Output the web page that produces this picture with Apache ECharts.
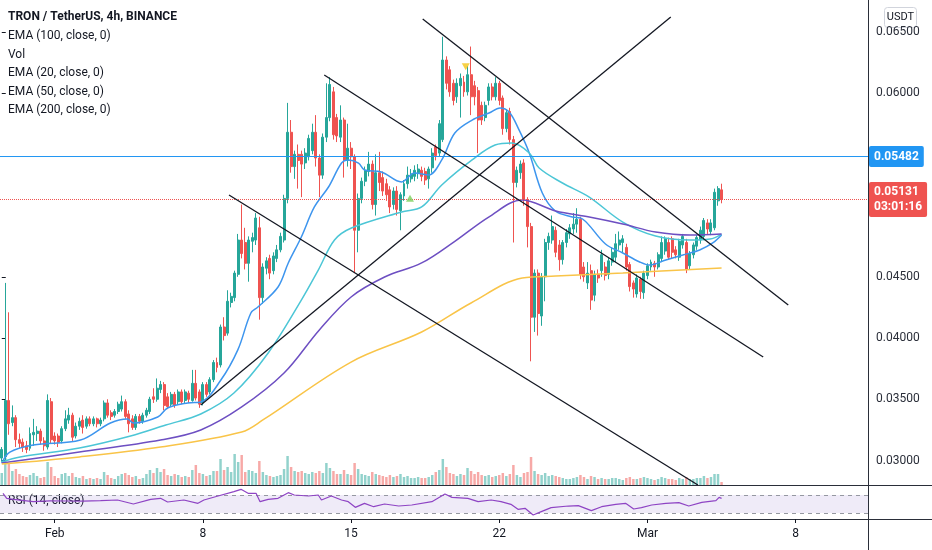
<!DOCTYPE html>
<html><head><meta charset="utf-8">
<script src="https://cdn.jsdelivr.net/npm/echarts@6/dist/echarts.min.js"></script>
<style>html,body{margin:0;padding:0;background:#fff;}#c{width:932px;height:550px;}</style>
</head><body><div id="c"></div>
<script>
// ---------- data ----------
const startTimeUTC = Date.UTC(2021, 0, 29, 12); // first 4h candle
const categoryCount = 246;
const tickIndex = [15, 57, 99, 141, 183, 225];
const tickLabels = ['Feb', '8', '15', '22', 'Mar', '8'];
const priceTicks = [0.030, 0.035, 0.040, 0.045, 0.060, 0.065];
const priceMin = 0.028, priceMax = 0.0676;
const titleText = 'TRON / TetherUS, 4h, BINANCE';
const legendLines = ['EMA (100, close, 0)', 'Vol', 'EMA (20, close, 0)', 'EMA (50, close, 0)', 'EMA (200, close, 0)'];
const alertLevel = 0.05482;
const countdown = '03:01:16';
const quoteCurrency = 'USDT';
const rsiTitle = 'RSI (14, close)';
const rsiBands = [30, 70];

// [open, close, low, high]
const candles = [
[0.0302,0.0309,0.0299,0.0311],[0.0303,0.0349,0.0300,0.0445],[0.0349,0.0330,0.0321,0.0421],[0.0331,0.0335,0.0328,0.0345],
[0.0335,0.0317,0.0311,0.0337],[0.0317,0.0314,0.0310,0.0322],[0.0315,0.0311,0.0307,0.0318],[0.0312,0.0309,0.0306,0.0316],
[0.0310,0.0322,0.0308,0.0327],[0.0321,0.0323,0.0312,0.0334],[0.0322,0.0324,0.0316,0.0328],[0.0324,0.0316,0.0313,0.0326],
[0.0316,0.0312,0.0308,0.0319],[0.0311,0.0349,0.0309,0.0354],[0.0348,0.0317,0.0314,0.0351],[0.0320,0.0316,0.0313,0.0323],
[0.0320,0.0315,0.0311,0.0322],[0.0316,0.0326,0.0314,0.0328],[0.0326,0.0334,0.0324,0.0341],[0.0333,0.0337,0.0330,0.0343],
[0.0337,0.0319,0.0316,0.0339],[0.0320,0.0328,0.0318,0.0331],[0.0328,0.0332,0.0325,0.0335],[0.0333,0.0327,0.0322,0.0337],
[0.0328,0.0334,0.0326,0.0336],[0.0334,0.0330,0.0328,0.0336],[0.0330,0.0334,0.0328,0.0336],[0.0334,0.0330,0.0327,0.0335],
[0.0330,0.0333,0.0328,0.0335],[0.0334,0.0347,0.0332,0.0349],[0.0347,0.0337,0.0335,0.0350],[0.0339,0.0336,0.0333,0.0341],
[0.0337,0.0340,0.0335,0.0342],[0.0340,0.0346,0.0338,0.0348],[0.0342,0.0348,0.0340,0.0353],[0.0348,0.0336,0.0334,0.0350],
[0.0338,0.0330,0.0323,0.0341],[0.0334,0.0327,0.0325,0.0337],[0.0327,0.0336,0.0325,0.0338],[0.0336,0.0332,0.0330,0.0338],
[0.0332,0.0337,0.0330,0.0339],[0.0337,0.0341,0.0335,0.0343],[0.0340,0.0350,0.0338,0.0352],[0.0352,0.0350,0.0347,0.0359],
[0.0350,0.0359,0.0348,0.0367],[0.0358,0.0362,0.0355,0.0365],[0.0362,0.0345,0.0341,0.0364],[0.0352,0.0344,0.0342,0.0355],
[0.0346,0.0354,0.0344,0.0356],[0.0354,0.0345,0.0343,0.0356],[0.0348,0.0356,0.0346,0.0358],[0.0356,0.0348,0.0346,0.0358],
[0.0349,0.0356,0.0347,0.0358],[0.0355,0.0350,0.0347,0.0357],[0.0349,0.0363,0.0348,0.0374],[0.0363,0.0351,0.0349,0.0374],
[0.0356,0.0346,0.0343,0.0358],[0.0347,0.0362,0.0345,0.0364],[0.0362,0.0354,0.0352,0.0364],[0.0356,0.0366,0.0354,0.0368],
[0.0366,0.0380,0.0364,0.0382],[0.0380,0.0376,0.0372,0.0384],[0.0378,0.0409,0.0376,0.0411],[0.0409,0.0402,0.0398,0.0417],
[0.0404,0.0430,0.0402,0.0439],[0.0429,0.0434,0.0425,0.0437],[0.0433,0.0453,0.0430,0.0455],[0.0452,0.0480,0.0450,0.0485],
[0.0480,0.0469,0.0465,0.0509],[0.0478,0.0461,0.0456,0.0490],[0.0461,0.0480,0.0446,0.0483],[0.0479,0.0482,0.0470,0.0486],
[0.0480,0.0498,0.0476,0.0502],[0.0490,0.0433,0.0415,0.0499],[0.0433,0.0458,0.0428,0.0461],[0.0457,0.0463,0.0452,0.0466],
[0.0465,0.0453,0.0448,0.0468],[0.0455,0.0467,0.0452,0.0470],[0.0465,0.0472,0.0462,0.0476],[0.0472,0.0483,0.0470,0.0486],
[0.0480,0.0514,0.0478,0.0517],[0.0514,0.0568,0.0510,0.0592],[0.0568,0.0540,0.0535,0.0578],[0.0540,0.0550,0.0530,0.0553],
[0.0550,0.0545,0.0522,0.0558],[0.0550,0.0542,0.0515,0.0553],[0.0543,0.0551,0.0538,0.0555],[0.0548,0.0563,0.0545,0.0566],
[0.0553,0.0568,0.0550,0.0575],[0.0568,0.0547,0.0540,0.0582],[0.0547,0.0533,0.0515,0.0550],[0.0533,0.0564,0.0530,0.0567],
[0.0564,0.0580,0.0560,0.0608],[0.0580,0.0607,0.0577,0.0613],[0.0601,0.0566,0.0562,0.0605],[0.0580,0.0565,0.0560,0.0583],
[0.0564,0.0578,0.0560,0.0590],[0.0578,0.0545,0.0531,0.0580],[0.0545,0.0555,0.0540,0.0575],[0.0555,0.0548,0.0538,0.0560],
[0.0548,0.0488,0.0453,0.0550],[0.0488,0.0514,0.0470,0.0518],[0.0514,0.0528,0.0510,0.0531],[0.0528,0.0537,0.0524,0.0540],
[0.0536,0.0542,0.0532,0.0552],[0.0542,0.0509,0.0505,0.0545],[0.0509,0.0535,0.0500,0.0550],[0.0535,0.0527,0.0520,0.0552],
[0.0531,0.0520,0.0516,0.0536],[0.0526,0.0517,0.0512,0.0530],[0.0521,0.0507,0.0502,0.0524],[0.0509,0.0520,0.0505,0.0523],
[0.0520,0.0505,0.0500,0.0524],[0.0504,0.0517,0.0488,0.0519],[0.0516,0.0526,0.0512,0.0529],[0.0526,0.0533,0.0522,0.0540],
[0.0530,0.0534,0.0527,0.0538],[0.0532,0.0537,0.0528,0.0541],[0.0535,0.0538,0.0530,0.0542],[0.0537,0.0532,0.0528,0.0540],
[0.0536,0.0529,0.0525,0.0539],[0.0530,0.0538,0.0522,0.0540],[0.0539,0.0551,0.0535,0.0555],[0.0556,0.0549,0.0545,0.0558],
[0.0551,0.0575,0.0548,0.0578],[0.0562,0.0627,0.0560,0.0646],[0.0627,0.0608,0.0603,0.0630],[0.0619,0.0601,0.0597,0.0622],
[0.0608,0.0594,0.0590,0.0611],[0.0597,0.0608,0.0592,0.0612],[0.0606,0.0612,0.0580,0.0616],[0.0609,0.0601,0.0597,0.0614],
[0.0601,0.0615,0.0598,0.0622],[0.0615,0.0597,0.0582,0.0638],[0.0606,0.0597,0.0590,0.0610],[0.0602,0.0578,0.0551,0.0605],
[0.0590,0.0578,0.0574,0.0593],[0.0580,0.0590,0.0577,0.0593],[0.0594,0.0605,0.0590,0.0608],[0.0605,0.0597,0.0594,0.0608],
[0.0597,0.0608,0.0594,0.0613],[0.0608,0.0594,0.0590,0.0610],[0.0596,0.0571,0.0566,0.0598],[0.0571,0.0584,0.0568,0.0587],
[0.0585,0.0562,0.0558,0.0588],[0.0562,0.0527,0.0478,0.0565],[0.0527,0.0537,0.0523,0.0540],[0.0535,0.0542,0.0530,0.0545],
[0.0543,0.0513,0.0508,0.0546],[0.0513,0.0491,0.0474,0.0515],[0.0491,0.0417,0.0381,0.0494],[0.0417,0.0453,0.0405,0.0456],
[0.0453,0.0420,0.0402,0.0456],[0.0418,0.0450,0.0410,0.0453],[0.0450,0.0478,0.0430,0.0481],[0.0478,0.0483,0.0472,0.0486],
[0.0480,0.0491,0.0477,0.0500],[0.0488,0.0470,0.0466,0.0491],[0.0476,0.0464,0.0455,0.0480],[0.0464,0.0478,0.0460,0.0480],
[0.0478,0.0486,0.0474,0.0489],[0.0485,0.0490,0.0481,0.0493],[0.0489,0.0493,0.0485,0.0502],[0.0493,0.0497,0.0486,0.0506],
[0.0497,0.0452,0.0448,0.0499],[0.0458,0.0450,0.0446,0.0462],[0.0445,0.0453,0.0440,0.0462],[0.0455,0.0431,0.0423,0.0460],
[0.0435,0.0452,0.0430,0.0455],[0.0452,0.0449,0.0445,0.0456],[0.0455,0.0468,0.0450,0.0472],[0.0458,0.0451,0.0447,0.0462],
[0.0452,0.0463,0.0448,0.0466],[0.0462,0.0470,0.0459,0.0474],[0.0466,0.0477,0.0462,0.0485],[0.0476,0.0480,0.0472,0.0487],
[0.0478,0.0481,0.0470,0.0484],[0.0474,0.0458,0.0455,0.0477],[0.0460,0.0442,0.0438,0.0462],[0.0445,0.0440,0.0433,0.0447],
[0.0436,0.0449,0.0433,0.0452],[0.0448,0.0438,0.0432,0.0450],[0.0437,0.0453,0.0432,0.0455],[0.0451,0.0459,0.0448,0.0461],
[0.0458,0.0462,0.0455,0.0464],[0.0461,0.0458,0.0450,0.0463],[0.0458,0.0468,0.0456,0.0470],[0.0465,0.0478,0.0462,0.0483],
[0.0471,0.0481,0.0468,0.0483],[0.0478,0.0466,0.0464,0.0482],[0.0481,0.0470,0.0465,0.0483],[0.0472,0.0468,0.0465,0.0475],
[0.0466,0.0479,0.0463,0.0481],[0.0476,0.0483,0.0473,0.0485],[0.0478,0.0456,0.0453,0.0481],[0.0459,0.0469,0.0456,0.0471],
[0.0468,0.0476,0.0465,0.0478],[0.0475,0.0482,0.0472,0.0484],[0.0480,0.0488,0.0477,0.0491],[0.0483,0.0496,0.0480,0.0498],
[0.0494,0.0489,0.0485,0.0497],[0.0487,0.0494,0.0484,0.0497],[0.0490,0.0519,0.0488,0.0522],[0.0512,0.0522,0.0508,0.0524],
[0.0521,0.05131,0.0510,0.0526]
];

// volume (M TRX)
const volumes = [
120,270,220,140,160,110,90,80,100,120,90,70,80,230,180,90,70,110,120,90,
120,80,70,90,60,70,60,70,60,130,100,70,60,90,110,120,100,80,90,60,
70,110,150,120,170,130,160,100,90,110,100,80,90,80,150,200,120,110,90,100,
140,140,260,150,180,130,310,230,300,130,150,140,120,240,130,100,90,80,90,100,
160,290,180,140,130,140,120,110,130,120,140,120,220,170,140,110,110,150,110,100,
220,160,110,100,90,130,110,100,90,80,100,80,90,110,80,90,70,70,80,70,
70,80,100,130,150,260,180,120,110,90,110,100,170,140,110,130,100,90,100,80,
90,100,120,90,110,200,100,80,120,130,280,140,110,100,120,90,100,90,80,70,
60,60,70,80,100,80,60,90,80,60,70,60,60,70,70,60,50,70,80,60,
60,70,80,70,60,50,60,80,70,60,60,50,70,60,80,60,60,70,70,90,
70,80,110,110,30
];

// EMA readings [candle index, price]
const ema20 = [[0,0.02979],[2.3,0.03069],[8.9,0.03127],[22.3,0.03167],[30.8,0.03306],[35.6,0.03339],[37.3,0.03306],
[44.2,0.03355],[47,0.03429],[52.7,0.03470],[56.4,0.03478],[62.1,0.03657],[66.9,0.03903],[70.6,0.04204],[72.6,0.04253],
[78.3,0.04417],[81.2,0.04613],[84.9,0.04825],[88.6,0.05070],[92.6,0.05233],[96.3,0.05429],[98.2,0.05454],[101.1,0.05429],
[102.8,0.05372],[107.6,0.05356],[113.3,0.05274],[117,0.05347],[121,0.05331],[124.7,0.05454],[128.4,0.05674],[133.3,0.05780],
[138.1,0.05837],[141.2,0.05878],[143.8,0.05845],[146.6,0.05699],[149.5,0.05511],[153.2,0.05184],[156.9,0.05037],
[161.7,0.04988],[164.6,0.04972],[171.1,0.04768],[176,0.04694],[180.8,0.04621],[183.6,0.04596],[188.2,0.04637],
[193,0.04678],[197.8,0.04719],[201.5,0.04776],[204,0.04841]];
const ema50 = [[0,0.02988],[5.2,0.03029],[22,0.03102],[36.5,0.03200],[46.5,0.03290],[56.4,0.03380],[65.8,0.03551],
[75.5,0.03878],[84.9,0.04310],[89.7,0.04555],[94.3,0.04800],[99.1,0.04898],[113.3,0.05029],[119,0.05070],[124.7,0.05249],
[133.3,0.05454],[139.8,0.05576],[144.6,0.05592],[149.5,0.05511],[152.3,0.05388],[158.9,0.05266],[166.5,0.05151],
[176,0.04947],[185.3,0.04833],[195,0.04800],[200.7,0.04808],[204,0.04849]];
const ema100 = [[0,0.02979],[22,0.03069],[45,0.03167],[56.4,0.03249],[68,0.03437],[80,0.03714],[90,0.04066],[99,0.04335],
[108.5,0.04498],[119,0.04613],[128.4,0.04790],[138,0.04988],[147.5,0.05127],[157,0.05037],[166.5,0.04988],[176,0.04931],
[185.3,0.04866],[195,0.04841],[204,0.04849]];
const ema200 = [[0,0.02971],[22,0.03029],[45,0.03110],[68,0.03233],[74,0.03331],[99,0.03804],[119,0.04049],[133,0.04286],
[147.5,0.04490],[157,0.04506],[176,0.04531],[204,0.04572]];

// RSI readings [candle index, value]
const rsi = [[0.35,73.7],[1.4,62.6],[3.3,60.4],[8.9,55.2],[13.7,57],[18.6,56.7],[23.1,56.5],[28,57.4],[32.8,58.9],
[37.3,50],[42.2,60.4],[45,62.6],[47,54.4],[51.6,58.9],[55.6,51.5],[57.3,58.9],[61.3,67.8],[65.8,77.4],[67.8,82.6],
[69.8,73.7],[72.1,73.5],[73.2,55.2],[75.5,60.4],[78.3,62.6],[81.2,75.2],[82.9,70],[86.9,67.8],[89.7,70],[90.6,58.9],
[93.4,67.8],[96.3,58.9],[98.2,55.2],[100.2,42.6],[102.8,51.5],[105.4,44],[108.5,50],[112.5,45.5],[116.2,47.8],
[121.9,55.2],[125.6,72.2],[127.6,64.8],[132.1,62.6],[135,55.2],[138.7,58.9],[141.5,55.2],[144.3,49.3],[146.3,38.1],
[148.3,40.4],[150.6,25.6],[152.9,33],[155.7,41.9],[160.6,45.5],[163.4,46.3],[167.1,35.2],[170,44],[174,49.3],
[176.8,51.5],[179.1,38.9],[181.3,41.9],[184.2,47.8],[188.2,51.5],[191.9,53],[194.7,45.5],[198.4,53.7],[202.4,57.4],
[203.3,64.8],[204,62.6]];

// Drawn trend lines: [[index, price], [index, price]]
const trendLines = [
  [[56.4, 0.03453], [189.6, 0.06621]],
  [[64.4, 0.05168], [197.3, 0.02800]],
  [[91.4, 0.06148], [215.8, 0.03845]],
  [[119.3, 0.06605], [222.9, 0.04270]]
];
const markersUp = [[115.7, 0.05141]];
const markersDown = [[131.5, 0.06215]];

// ---------- chart ----------
const categories = [];
for (let i = 0; i < categoryCount; i++) {
  const d = new Date(startTimeUTC + i * 4 * 3600 * 1000);
  categories.push(d.toISOString().slice(0, 16).replace('T', ' '));
}
const lastClose = candles[candles.length - 1][1];
const UP = '#26a69a', DOWN = '#ef5350';
const FONT = "Roboto, sans-serif";
const TXT = '#131722';
const xLo = -0.5, xHi = categoryCount - 0.5;

const volData = volumes.map((v, i) => ({
  value: v,
  itemStyle: { color: candles[i][1] >= candles[i][0] ? 'rgba(38,166,154,0.5)' : 'rgba(239,83,80,0.5)' }
}));

const emaSeries = [
  { d: ema20, c: '#3d95ee' },
  { d: ema50, c: '#4cc6d6' },
  { d: ema100, c: '#6d4fc2' },
  { d: ema200, c: '#f9c448' }
].map(e => ({
  type: 'line', xAxisIndex: 1, yAxisIndex: 0, data: e.d, showSymbol: false, smooth: 0.35,
  lineStyle: { color: e.c, width: 1.5 }, silent: true, z: 4
}));

const trendSeries = trendLines.map(t => ({
  type: 'line', xAxisIndex: 1, yAxisIndex: 0, data: t, showSymbol: false,
  lineStyle: { color: '#131722', width: 1.3 }, silent: true, z: 6
}));

function levelSeries(level, color, type, text, padding) {
  return {
    type: 'line', xAxisIndex: 1, yAxisIndex: 0, data: [[xLo, level], [xHi, level]],
    showSymbol: false, silent: true, z: 5,
    lineStyle: { color: color, width: 1, type: type },
    endLabel: { show: true, distance: 1, formatter: text, backgroundColor: color, color: '#fff',
      padding: padding, fontSize: 12, lineHeight: 15, fontFamily: 'Roboto', fontWeight: 'bold', borderRadius: 2 }
  };
}

const textEls = [{
  type: 'text', left: 8, top: 11,
  style: { text: titleText, font: 'bold 12px ' + FONT, fill: TXT }
}].concat(legendLines.map((t, k) => ({
  type: 'text', left: 8, top: 30 + k * 18.6,
  style: { text: t, font: '12px ' + FONT, fill: TXT }
})));

const option = {
  animation: false,
  backgroundColor: '#ffffff',
  grid: [
    { left: 0, top: 0, width: 868, height: 485 },
    { left: 0, top: 486, width: 868, height: 33 }
  ],
  xAxis: [
    { type: 'category', gridIndex: 0, data: categories, boundaryGap: true, show: false },
    { type: 'value', gridIndex: 0, min: xLo, max: xHi, show: false },
    { type: 'category', gridIndex: 1, data: categories, boundaryGap: true, position: 'bottom',
      axisLine: { show: false },
      axisTick: { show: true, alignWithLabel: true, length: 4, lineStyle: { color: TXT },
        interval: (idx) => tickIndex.indexOf(idx) >= 0 },
      axisLabel: { show: true, margin: 9, fontSize: 12, color: TXT, fontFamily: 'Roboto',
        interval: (idx) => tickIndex.indexOf(idx) >= 0,
        formatter: (v, idx) => { const k = tickIndex.indexOf(idx); return k >= 0 ? tickLabels[k] : ''; } },
      splitLine: { show: false } },
    { type: 'value', gridIndex: 1, min: xLo, max: xHi, show: false }
  ],
  yAxis: [
    { type: 'value', gridIndex: 0, position: 'right', min: priceMin, max: priceMax,
      axisLine: { show: false },
      axisTick: { show: true, length: 4, lineStyle: { color: TXT }, customValues: priceTicks },
      axisLabel: { show: true, margin: 8, fontSize: 12, color: '#2a2e39', fontFamily: 'Roboto',
        customValues: priceTicks, formatter: v => v.toFixed(5) },
      splitLine: { show: false } },
    { type: 'value', gridIndex: 0, min: 0, max: 4850, show: false },
    { type: 'value', gridIndex: 1, min: 16.67, max: 90, show: false }
  ],
  series: [
    { type: 'bar', xAxisIndex: 0, yAxisIndex: 1, data: volData, barWidth: '70%', silent: true, z: 1 },
    { type: 'candlestick', xAxisIndex: 0, yAxisIndex: 0, data: candles, barWidth: '70%', z: 3,
      itemStyle: { color: UP, color0: DOWN, borderColor: UP, borderColor0: DOWN, borderWidth: 1 } },
    levelSeries(alertLevel, '#2196f3', 'solid', alertLevel.toFixed(5), [3, 5, 3, 5]),
    levelSeries(lastClose, '#ef5350', 'dotted', lastClose.toFixed(5) + '\n' + countdown, [3, 5, 2, 5]),
    ...emaSeries,
    ...trendSeries,
    { type: 'scatter', xAxisIndex: 1, yAxisIndex: 0, data: markersUp, symbol: 'triangle', symbolSize: [8, 7],
      itemStyle: { color: '#7ccf5b' }, silent: true, z: 7 },
    { type: 'scatter', xAxisIndex: 1, yAxisIndex: 0, data: markersDown, symbol: 'triangle', symbolRotate: 180,
      symbolSize: [8, 7], itemStyle: { color: '#f5c518' }, silent: true, z: 7 },
    { type: 'line', xAxisIndex: 3, yAxisIndex: 2, data: rsi, showSymbol: false, silent: true,
      lineStyle: { color: '#8e44c4', width: 1.2 }, z: 5,
      markArea: { silent: true, itemStyle: { color: 'rgba(126,87,194,0.12)' },
        data: [[{ yAxis: rsiBands[0] }, { yAxis: rsiBands[1] }]] },
      markLine: { silent: true, symbol: ['none', 'none'], label: { show: false },
        lineStyle: { color: '#9598a1', type: [4, 4], width: 1 },
        data: [{ yAxis: rsiBands[1] }, { yAxis: rsiBands[0] }] } }
  ],
  graphic: [
    ...textEls,
    { type: 'text', left: 8, top: 495, style: { text: rsiTitle, font: '12px ' + FONT, fill: TXT } },
    { type: 'line', shape: { x1: 868.5, y1: 0, x2: 868.5, y2: 550 }, style: { stroke: '#2a2e39', lineWidth: 1 } },
    { type: 'line', shape: { x1: 0, y1: 485.5, x2: 932, y2: 485.5 }, style: { stroke: '#2a2e39', lineWidth: 1 } },
    { type: 'line', shape: { x1: 0, y1: 519.5, x2: 932, y2: 519.5 }, style: { stroke: '#2a2e39', lineWidth: 1 } },
    { type: 'group', left: 884, top: 7, children: [
      { type: 'rect', shape: { x: 0, y: 0, width: 32, height: 20, r: 3 },
        style: { fill: '#fff', stroke: '#d1d4dc', lineWidth: 1 } },
      { type: 'text', style: { text: quoteCurrency, x: 16, y: 10, align: 'center', verticalAlign: 'middle',
        font: '11px Roboto', fill: TXT } }
    ] }
  ]
};
const chart = echarts.init(document.getElementById('c'), null, { renderer: 'canvas' });
chart.setOption(option);
</script>
</body></html>
